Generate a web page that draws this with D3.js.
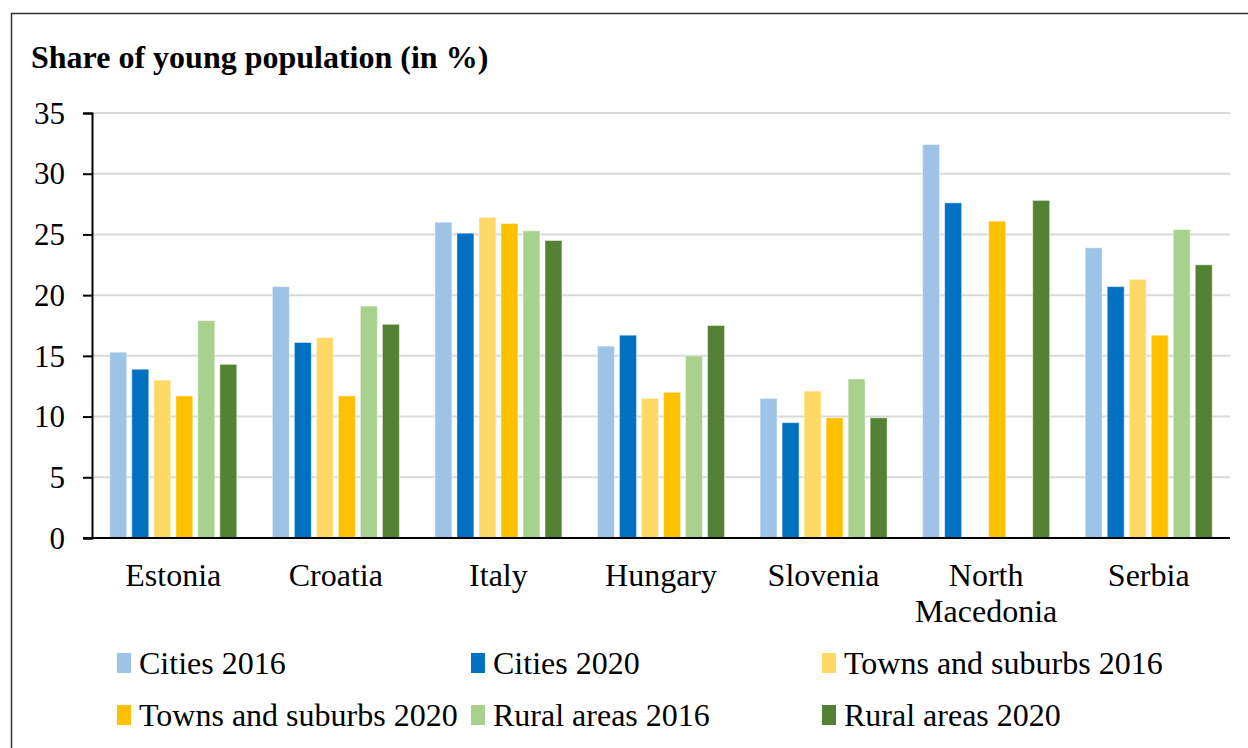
<!DOCTYPE html>
<html lang="en">
<head>
  <meta charset="utf-8">
  <title>Share of young population</title>
  <script src="https://d3js.org/d3.v7.min.js"></script>
  <style>
    body { margin: 0; background: #fff; }
    text { font-family: "Liberation Serif", "Times New Roman", serif; fill: #000; }
    .title { font-size: 32px; font-weight: bold; }
    .cat { font-size: 32px; text-anchor: middle; }
    .legend text { font-size: 32px; }
  </style>
</head>
<body>
  <div id="chart"></div>
  <script>
    var w = 1248, h = 748;
    var countries = ['Estonia', 'Croatia', 'Italy', 'Hungary', 'Slovenia', 'North Macedonia', 'Serbia'];
    var seriesNames = ['Cities 2016', 'Cities 2020', 'Towns and suburbs 2016',
                       'Towns and suburbs 2020', 'Rural areas 2016', 'Rural areas 2020'];
    var colors = ['#9dc3e6', '#0070c0', '#ffd966', '#ffc000', '#a9d18e', '#548235'];
    // one array per series, in country order (null = no data)
    var cities2016 = [15.3, 20.7, 26.0, 15.8, 11.5, 32.4, 23.9];
    var cities2020 = [13.9, 16.1, 25.1, 16.7, 9.5, 27.6, 20.7];
    var towns2016 = [13.0, 16.5, 26.4, 11.5, 12.1, null, 21.3];
    var towns2020 = [11.7, 11.7, 25.9, 12.0, 9.9, 26.1, 16.7];
    var rural2016 = [17.9, 19.1, 25.3, 15.0, 13.1, null, 25.4];
    var rural2020 = [14.3, 17.6, 24.5, 17.5, 9.9, 27.8, 22.5];
    var yTicks = [0, 5, 10, 15, 20, 25, 30, 35];

    var allSeries = [cities2016, cities2020, towns2016, towns2020, rural2016, rural2020];

    // plot area (window.top is reserved, so prefixed names)
    var pLeft = 92, pRight = 1230, pTop = 113, pBottom = 538;

    var svg = d3.select('#chart').append('svg')
      .attr('width', w)
      .attr('height', h);

    // outer frame
    svg.append('rect')
      .attr('x', 11.5).attr('y', 13.5)
      .attr('width', w).attr('height', h)
      .attr('fill', 'none')
      .attr('stroke', '#333')
      .attr('stroke-width', 1.5);

    svg.append('text')
      .attr('class', 'title')
      .attr('x', 31).attr('y', 68)
      .text('Share of young population (in %)');

    var y = d3.scaleLinear().domain([0, 35]).range([pBottom, pTop]);
    var x0 = d3.scaleBand().domain(countries).range([pLeft, pRight]);
    var bw = x0.bandwidth();
    var inset = (bw - 127) / 2;
    var x1 = d3.scaleBand().domain(d3.range(seriesNames.length))
      .range([inset, bw - inset])
      .paddingInner(0.23);

    // gridlines
    svg.append('g').selectAll('line')
      .data(yTicks.filter(function (d) { return d > 0; }))
      .enter().append('line')
      .attr('x1', pLeft).attr('x2', pRight)
      .attr('y1', function (d) { return y(d); })
      .attr('y2', function (d) { return y(d); })
      .attr('stroke', '#d9d9d9')
      .attr('stroke-width', 2);

    // bars
    var groups = svg.append('g').selectAll('g')
      .data(countries)
      .enter().append('g')
      .attr('transform', function (d) { return 'translate(' + x0(d) + ',0)'; });

    groups.selectAll('rect')
      .data(function (c, ci) {
        return allSeries.map(function (s, si) { return { si: si, v: s[ci] }; })
          .filter(function (d) { return d.v != null; });
      })
      .enter().append('rect')
      .attr('x', function (d) { return x1(d.si); })
      .attr('y', function (d) { return y(d.v); })
      .attr('width', x1.bandwidth())
      .attr('height', function (d) { return pBottom - y(d.v); })
      .attr('fill', function (d) { return colors[d.si]; })
      .attr('stroke', 'rgba(255,255,255,0.45)')
      .attr('stroke-width', 1);

    // y axis
    var yAxis = svg.append('g')
      .attr('transform', 'translate(' + pLeft + ',0)')
      .call(d3.axisLeft(y).tickValues(yTicks).tickSize(9).tickPadding(18));
    yAxis.attr('font-family', '"Liberation Serif", "Times New Roman", serif')
      .attr('font-size', 31);
    yAxis.select('.domain').attr('stroke', '#000').attr('stroke-width', 2);
    yAxis.selectAll('.tick line').attr('stroke', '#000').attr('stroke-width', 2);
    yAxis.selectAll('.tick text')
      .style('font-family', '"Liberation Serif", "Times New Roman", serif')
      .style('font-size', '31px')
      .attr('dy', '0.33em');

    // x axis line
    svg.append('line')
      .attr('x1', pLeft - 9).attr('x2', pRight)
      .attr('y1', pBottom).attr('y2', pBottom)
      .attr('stroke', '#000').attr('stroke-width', 2);

    // category labels
    svg.append('g').selectAll('text')
      .data(countries)
      .enter().append('text')
      .attr('class', 'cat')
      .attr('x', function (d) { return x0(d) + bw / 2; })
      .attr('y', 586)
      .each(function (d) {
        var words = d === 'North Macedonia' ? ['North', 'Macedonia'] : [d];
        var t = d3.select(this);
        words.forEach(function (wd, i) {
          t.append('tspan')
            .attr('x', x0(d) + bw / 2)
            .attr('dy', i === 0 ? 0 : 36)
            .text(wd);
        });
      });

    // legend
    var legX = [117, 471, 822];
    var legY = [663, 715];
    var leg = svg.append('g').attr('class', 'legend')
      .selectAll('g')
      .data(seriesNames)
      .enter().append('g')
      .attr('transform', function (d, i) {
        return 'translate(' + legX[i % 3] + ',' + legY[Math.floor(i / 3)] + ')';
      });
    leg.append('rect')
      .attr('x', 0).attr('y', -10)
      .attr('width', 14).attr('height', 20)
      .attr('fill', function (d, i) { return colors[i]; });
    leg.append('text')
      .attr('x', 22).attr('y', 0)
      .attr('dy', '0.35em')
      .text(function (d) { return d; });
  </script>
</body>
</html>
